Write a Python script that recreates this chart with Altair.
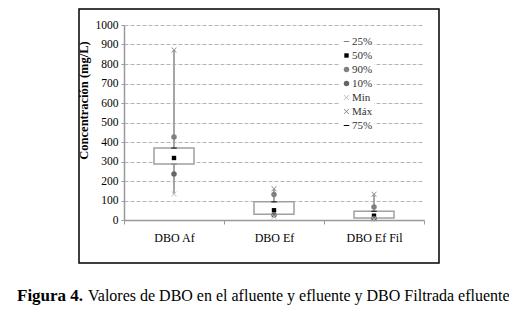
import altair as alt
import pandas as pd

categories = ["DBO Af", "DBO Ef", "DBO Ef Fil"]
p25 = [287, 29, 10]
p50 = [318, 50, 22]
p75 = [369, 93, 45]
p90 = [426, 131, 67]
p10 = [236, 26, 8]
vmin = [133, 18, 3]
vmax = [872, 160, 132]
y_ticks = [0, 100, 200, 300, 400, 500, 600, 700, 800, 900, 1000]

legend_order = ["25%", "50%", "90%", "10%", "Min", "Máx", "75%"]
stat_values = {"25%": p25, "50%": p50, "90%": p90, "10%": p10,
               "Min": vmin, "Máx": vmax, "75%": p75}

SERIF = "Liberation Serif"

box_df = pd.DataFrame({"cat": categories, "p25": p25, "p75": p75,
                       "vmin": vmin, "vmax": vmax})
rows = []
for stat in legend_order:
    for c, v in zip(categories, stat_values[stat]):
        rows.append({"cat": c, "stat": stat, "value": v})
pts_df = pd.DataFrame(rows)

dash = "M-1,-0.18L1,-0.18L1,0.18L-1,0.18Z"
xshape = "M-1,-0.8L-0.8,-1L0,-0.2L0.8,-1L1,-0.8L0.2,0L1,0.8L0.8,1L0,0.2L-0.8,1L-1,0.8L-0.2,0Z"
square = "M-0.8,-0.8L0.8,-0.8L0.8,0.8L-0.8,0.8Z"
shapes = [dash, square, "circle", "circle", xshape, xshape, dash]
colors = ["#7f7f7f", "#000000", "#808080", "#666666", "#bfbfbf", "#8c8c8c", "#000000"]

xaxis = alt.Axis(labelAngle=0, labelPadding=8, tickBand="extent", grid=False)
xenc = alt.X("cat:N", sort=categories, title=None,
             scale=alt.Scale(paddingInner=0, paddingOuter=0), axis=xaxis)
yscale = alt.Scale(domain=[0, 1000], nice=False, zero=True)
yaxis = alt.Axis(values=y_ticks, format="d", title="Concentración (mg/L)", labelOverlap=False,
                 titleY=75, titleX=-34)

base = alt.Chart(box_df)
whisker = base.mark_rule(color="#a6a6a6", strokeWidth=2).encode(
    x=xenc, y=alt.Y("vmin:Q", scale=yscale, axis=yaxis), y2="vmax:Q")
box = base.mark_bar(size=40, fill="white", stroke="#a0a0a0", strokeWidth=1.5).encode(
    x=xenc, y=alt.Y("p25:Q", scale=yscale, axis=yaxis), y2="p75:Q")
points = alt.Chart(pts_df).mark_point(filled=True, size=30, opacity=1).encode(
    x=xenc,
    y=alt.Y("value:Q", scale=yscale, axis=yaxis),
    shape=alt.Shape("stat:N", scale=alt.Scale(domain=legend_order, range=shapes),
                    legend=alt.Legend(title=None, orient="none", legendX=216, legendY=10,
                                      labelFont=SERIF, labelFontSize=11, labelColor="#333",
                                      symbolSize=30, rowPadding=2, labelOffset=0,
                                      fillColor="white", padding=1)),
    color=alt.Color("stat:N", scale=alt.Scale(domain=legend_order, range=colors)),
)

one = pd.DataFrame({"a": [0]})
frame = alt.Chart(one).mark_rect(fill="transparent", stroke="#000", strokeWidth=1.5).encode(
    x=alt.value(-45), x2=alt.value(315), y=alt.value(-16), y2=alt.value(238))
cap1 = alt.Chart(one).mark_text(text="Figura 4.", font=SERIF, fontSize=17, fontWeight="bold",
                                align="left", baseline="alphabetic").encode(
    x=alt.value(-107), y=alt.value(276))
cap2 = alt.Chart(one).mark_text(text="Valores de DBO en el afluente y efluente y DBO Filtrada efluente",
                                font=SERIF, fontSize=16, align="left", baseline="alphabetic").encode(
    x=alt.value(-36), y=alt.value(276))

chart = alt.layer(whisker, box, points, frame, cap1, cap2).properties(
    width=300, height=195,
    autosize=alt.AutoSizeParams(type="none"),
    padding={"left": 116, "top": 17, "right": 85, "bottom": 88},
).configure_view(stroke=None).configure_axisX(
    labelFont=SERIF, labelFontSize=12, labelColor="#000", tickSize=4, tickColor="#999",
    domainColor="#999", domainWidth=1.5
).configure_axisY(
    labelFont=SERIF, labelFontSize=11.5, labelColor="#000", tickSize=3, tickColor="#999",
    domainColor="#999", domainWidth=1.5, gridColor="#b5b5b5", gridDash=[4, 2],
    labelPadding=3, titleFont=SERIF, titleFontSize=12.5, titleFontWeight="bold",
    titleColor="#000"
)

chart.save("out.html", embed_options={"renderer": "svg", "actions": False})
